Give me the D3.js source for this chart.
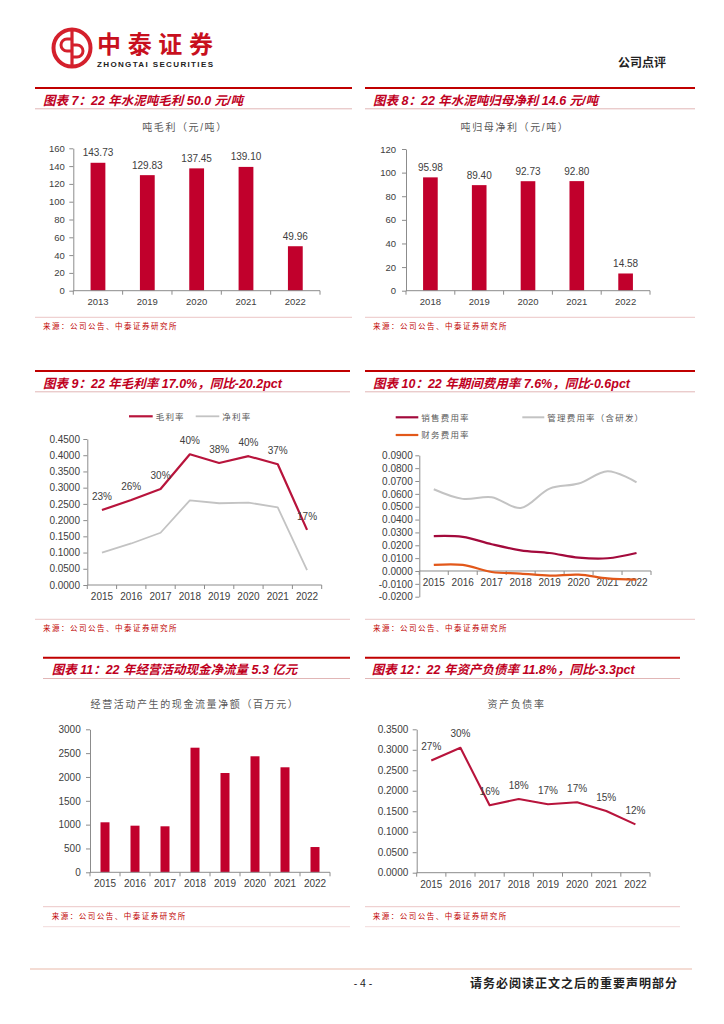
<!DOCTYPE html>
<html>
<head>
<meta charset="utf-8">
<script src="https://cdn.jsdelivr.net/npm/d3@7"></script>
<style>
    body { margin: 0; background: #fff; }
    svg text { font-family: "Liberation Sans", "Noto Sans CJK SC", sans-serif; }
</style>
</head>
<body>
<div class="page"></div>
<script>
// chart 7 / 8: per-ton figures
const tonYearsA = ["2013", "2019", "2020", "2021", "2022"];
const grossPerTon = [143.73, 129.83, 137.45, 139.1, 49.96];
const tonYearsB = ["2018", "2019", "2020", "2021", "2022"];
const netPerTon = [95.98, 89.4, 92.73, 92.8, 14.58];

// chart 9 / 10 / 11 / 12 share these years
const years = ["2015", "2016", "2017", "2018", "2019", "2020", "2021", "2022"];
const grossMargin = [0.231, 0.262, 0.296, 0.403, 0.376, 0.397, 0.372, 0.17];
const grossLabels = ["23%", "26%", "30%", "40%", "38%", "40%", "37%", "17%"];
const netMargin = [0.1, 0.128, 0.161, 0.261, 0.252, 0.254, 0.239, 0.046];

const sellRate = [0.0272, 0.0266, 0.0208, 0.0161, 0.014, 0.0104, 0.0099, 0.014];
const adminRate = [0.0636, 0.0561, 0.0574, 0.049, 0.0641, 0.068, 0.0776, 0.069];
const finRate = [0.0047, 0.0047, -0.0008, -0.002, -0.0036, -0.0028, -0.0057, -0.0067];

const cashFlow = [1049, 978, 965, 2614, 2083, 2434, 2203, 530];

const debtRatio = [0.274, 0.305, 0.1645, 0.18, 0.167, 0.172, 0.1506, 0.118];
const debtLabels = ["27%", "30%", "16%", "18%", "17%", "17%", "15%", "12%"];

const sourceText = "来源：公司公告、中泰证券研究所";

const barRed = "#c1002c";
const titleRed = "#c0001e";
const axisGray = "#8c8c8c";
const textGray = "#404040";

const svg = d3
    .select(".page")
    .append("svg")
    .attr("width", 724)
    .attr("height", 1024);

// ---------- header ----------
const logo = svg.append("g").attr("fill", "none").attr("stroke", "#d4202c");
logo.append("circle").attr("cx", 72).attr("cy", 48).attr("r", 18.5).attr("stroke-width", 4);
logo.append("line").attr("x1", 72).attr("x2", 72).attr("y1", 30).attr("y2", 66).attr("stroke-width", 3.2);
logo.append("path")
    .attr("d", "M72,39 h-5 a6,6 0 0 0 0,12 h5 M72,45 h5 a6,6 0 0 1 0,12 h-5")
    .attr("stroke-width", 3);

svg.append("text")
    .attr("x", 97).attr("y", 53)
    .attr("font-family", "Noto Sans CJK SC")
    .attr("font-size", 24).attr("font-weight", "bold")
    .attr("fill", "#c8101e")
    .attr("textLength", 116)
    .text("中泰证券");
svg.append("text")
    .attr("x", 97).attr("y", 67)
    .attr("font-size", 8).attr("font-weight", "bold")
    .attr("fill", "#222")
    .attr("textLength", 116)
    .text("ZHONGTAI SECURITIES");
svg.append("text")
    .attr("x", 618).attr("y", 66.5)
    .attr("font-size", 12).attr("font-weight", "bold")
    .attr("fill", "#222")
    .text("公司点评");

// ---------- footer ----------
svg.append("line")
    .attr("x1", 30).attr("x2", 692).attr("y1", 969).attr("y2", 969)
    .attr("stroke", "#e9b9a9").attr("stroke-width", 1);
svg.append("text")
    .attr("x", 363).attr("y", 987).attr("text-anchor", "middle")
    .attr("font-size", 10.5).attr("fill", "#222")
    .text("- 4 -");
svg.append("text")
    .attr("x", 470).attr("y", 987.5)
    .attr("font-size", 12).attr("font-weight", "bold")
    .attr("letter-spacing", 1)
    .attr("fill", "#222")
    .text("请务必阅读正文之后的重要声明部分");

// ---------- panel frames ----------
function frame(x0, x1, top, titleX, title, srcY, srcX, bottomLine) {
    svg.append("line")
        .attr("x1", x0).attr("x2", x1).attr("y1", top).attr("y2", top)
        .attr("stroke", "#c00000").attr("stroke-width", 2);
    svg.append("text")
        .attr("x", titleX).attr("y", top + 16.5)
        .attr("font-size", 12.5).attr("font-weight", "bold").attr("font-style", "italic")
        .attr("fill", titleRed)
        .text(title);
    svg.append("line")
        .attr("x1", x0).attr("x2", x1).attr("y1", top + 20.8).attr("y2", top + 20.8)
        .attr("stroke", "#d9a3a3").attr("stroke-width", 0.8);
    svg.append("line")
        .attr("x1", x0).attr("x2", x1).attr("y1", srcY).attr("y2", srcY)
        .attr("stroke", "#e6b8b8").attr("stroke-width", 0.8);
    svg.append("text")
        .attr("x", srcX).attr("y", srcY + 12)
        .attr("font-size", 7.5).attr("letter-spacing", 1.5)
        .attr("fill", "#c00000")
        .text(sourceText);
    if (bottomLine) {
        svg.append("line")
            .attr("x1", x0).attr("x2", x1).attr("y1", srcY + 20).attr("y2", srcY + 20)
            .attr("stroke", "#eed0d0").attr("stroke-width", 0.8);
    }
}

function chartTitle(cx, cy, text) {
    svg.append("text")
        .attr("x", cx).attr("y", cy + 3.5)
        .attr("text-anchor", "middle")
        .attr("font-size", 10).attr("letter-spacing", 1.6)
        .attr("fill", "#595959")
        .text(text);
}

// y axis with outward ticks
function drawYAxis(y, x, values, fmt, pad, size) {
    const g = svg.append("g")
        .attr("transform", `translate(${x},0)`)
        .call(d3.axisLeft(y).tickValues(values).tickFormat(fmt).tickSize(4).tickSizeOuter(0).tickPadding(pad));
    g.selectAll("path, line").attr("stroke", axisGray);
    g.selectAll("text").attr("fill", textGray).attr("font-size", size)
        .attr("font-family", "Liberation Sans");
    return g;
}

// category axis: labels at band centres, ticks at band edges
function drawXAxis(xb, y0, labelDy, size) {
    const g = svg.append("g").attr("transform", `translate(0,${y0})`);
    g.call(d3.axisBottom(xb).tickSize(0).tickPadding(labelDy))
        .call((a) => a.select(".domain").remove());
    g.selectAll("text").attr("fill", textGray).attr("font-size", size)
        .attr("font-family", "Liberation Sans");
    const [r0, r1] = xb.range();
    g.append("line").attr("x1", r0).attr("x2", r1).attr("stroke", axisGray);
    const edges = xb.domain().map((d) => xb(d)).concat([r1]);
    g.selectAll(".edge").data(edges).join("line")
        .attr("class", "edge")
        .attr("x1", (d) => d).attr("x2", (d) => d)
        .attr("y1", 0).attr("y2", 4)
        .attr("stroke", axisGray);
}

function barChart(cats, vals, o) {
    const xb = d3.scaleBand().domain(cats).range([o.x0, o.x1]);
    const xBar = d3.scaleBand().domain(cats).range([o.x0, o.x1])
        .paddingInner(0.7).paddingOuter(0.35);
    const y = d3.scaleLinear().domain([0, o.max]).range([o.yBot, o.yTop]);

    drawYAxis(y, o.x0, d3.range(0, o.max + 1, o.step), d3.format("d"), o.pad, o.tickSize);

    svg.append("g").selectAll("rect").data(vals).join("rect")
        .attr("x", (d, i) => xBar(cats[i]))
        .attr("width", xBar.bandwidth())
        .attr("y", (d) => y(d))
        .attr("height", (d) => y(0) - y(d))
        .attr("fill", barRed);

    if (o.labels) {
        svg.append("g").selectAll("text").data(vals).join("text")
            .attr("x", (d, i) => xBar(cats[i]) + xBar.bandwidth() / 2)
            .attr("y", (d) => y(d) - 6.5)
            .attr("text-anchor", "middle")
            .attr("font-size", 10).attr("fill", textGray)
            .text((d) => d3.format(".2f")(d));
    }
    drawXAxis(xb, o.yBot, o.labelDy, o.tickSize);
}

function lineSeries(xp, y, vals, color, width, curve) {
    svg.append("path")
        .datum(vals)
        .attr("fill", "none")
        .attr("stroke", color)
        .attr("stroke-width", width)
        .attr("stroke-linejoin", "round")
        .attr("d", d3.line()
            .x((d, i) => xp(years[i]))
            .y((d) => y(d))
            .curve(curve || d3.curveLinear));
}

function pointLabels(xp, y, vals, labels) {
    svg.append("g").selectAll("text").data(vals).join("text")
        .attr("x", (d, i) => xp(years[i]))
        .attr("y", (d) => y(d) - 10.3)
        .attr("text-anchor", "middle")
        .attr("font-size", 10).attr("fill", textGray)
        .text((d, i) => labels[i]);
}

function legendItem(x, y, w, color, text, stroke) {
    svg.append("line")
        .attr("x1", x).attr("x2", x + w).attr("y1", y).attr("y2", y)
        .attr("stroke", color).attr("stroke-width", stroke);
    svg.append("text")
        .attr("x", x + w + 3).attr("y", y + 3.2)
        .attr("font-size", 8.5).attr("letter-spacing", 1.2)
        .attr("fill", "#595959")
        .text(text);
}

// ---------- 图表7 ----------
frame(35, 352, 88, 43, "图表 7：22 年水泥吨毛利 50.0 元/吨", 317.3, 43);
chartTitle(185, 127, "吨毛利（元/吨）");
barChart(tonYearsA, grossPerTon, {
    x0: 73.3, x1: 320, yTop: 148.3, yBot: 290.7, max: 160, step: 20,
    pad: 4.5, tickSize: 9.5, labels: true, labelDy: 7.5,
});

// ---------- 图表8 ----------
frame(365, 695, 88, 373, "图表 8：22 年水泥吨归母净利 14.6 元/吨", 317.3, 373);
chartTitle(515, 127, "吨归母净利（元/吨）");
barChart(tonYearsB, netPerTon, {
    x0: 406, x1: 650, yTop: 149, yBot: 290.7, max: 120, step: 20,
    pad: 6, tickSize: 9.5, labels: true, labelDy: 7.5,
});

// ---------- 图表9 ----------
frame(35, 350, 371, 43, "图表 9：22 年毛利率 17.0%，同比-20.2pct", 619.3, 43);
{
    const xb = d3.scaleBand().domain(years).range([87.3, 321.7]);
    const xp = d3.scalePoint().domain(years).range([87.3, 321.7]).padding(0.5);
    const y = d3.scaleLinear().domain([0, 0.45]).range([585, 439]);
    drawYAxis(y, 87.3, d3.range(0, 0.4501, 0.05), d3.format(".4f"), 3.3, 10);
    drawXAxis(xb, 585, 8, 10);
    lineSeries(xp, y, netMargin, "#c3c3c3", 1.8);
    lineSeries(xp, y, grossMargin, "#b8143c", 2.2);
    pointLabels(xp, y, grossMargin, grossLabels);
    legendItem(129, 416.3, 23.7, "#b8143c", "毛利率", 2.2);
    legendItem(195.7, 416.3, 23.6, "#c3c3c3", "净利率", 1.8);
}

// ---------- 图表10 ----------
frame(365, 695, 371, 373, "图表 10：22 年期间费用率 7.6%，同比-0.6pct", 619.3, 373);
{
    const xb = d3.scaleBand().domain(years).range([419.3, 651]);
    const xp = d3.scalePoint().domain(years).range([419.3, 651]).padding(0.5);
    const y = d3.scaleLinear().domain([-0.02, 0.09]).range([596.7, 455.3]);
    drawYAxis(y, 419.3, d3.range(-0.02, 0.0901, 0.01).map((d) => Math.round(d * 1e4) / 1e4),
        (d) => d3.format(".4f")(d).replace("−", "-"), 2.6, 10);
    drawXAxis(xb, y(0), 8, 10);
    const smooth = d3.curveCatmullRom.alpha(0.5);
    lineSeries(xp, y, adminRate, "#c3c3c3", 2, smooth);
    lineSeries(xp, y, sellRate, "#a30a3c", 2.2, smooth);
    lineSeries(xp, y, finRate, "#e2581a", 2.2, smooth);
    legendItem(395.7, 417.3, 22.6, "#a30a3c", "销售费用率", 2.2);
    legendItem(522.3, 417.3, 22, "#c3c3c3", "管理费用率（含研发）", 2);
    legendItem(395.7, 435, 22.6, "#e2581a", "财务费用率", 2.2);
}

// ---------- 图表11 ----------
frame(43, 350, 657.7, 51.7, "图表 11：22 年经营活动现金净流量 5.3 亿元", 906.7, 51.7, true);
chartTitle(195, 704.3, "经营活动产生的现金流量净额（百万元）");
barChart(years, cashFlow, {
    x0: 90, x1: 330, yTop: 729.3, yBot: 872.3, max: 3000, step: 500,
    pad: 5.3, tickSize: 10, labels: false, labelDy: 7.5,
});

// ---------- 图表12 ----------
frame(365, 680, 657.7, 371.7, "图表 12：22 年资产负债率 11.8%，同比-3.3pct", 906.7, 372.7, true);
chartTitle(516.5, 704.3, "资产负债率");
{
    const xb = d3.scaleBand().domain(years).range([416.7, 650]);
    const xp = d3.scalePoint().domain(years).range([416.7, 650]).padding(0.5);
    const y = d3.scaleLinear().domain([0, 0.35]).range([872.7, 729.3]);
    drawYAxis(y, 416.7, d3.range(0, 0.3501, 0.05), d3.format(".4f"), 4.4, 10);
    drawXAxis(xb, 872.7, 8, 10);
    lineSeries(xp, y, debtRatio, "#b8143c", 2.1);
    pointLabels(xp, y, debtRatio, debtLabels);
}
</script>
</body>
</html>
